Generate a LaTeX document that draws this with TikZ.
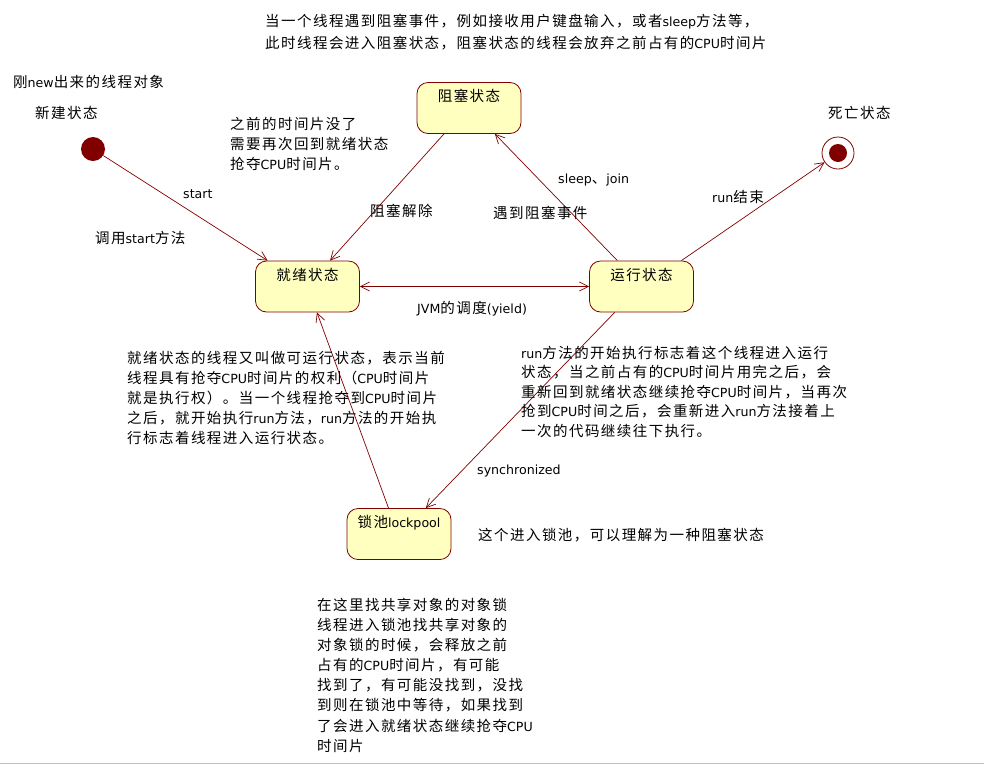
\documentclass[tikz,border=0pt]{standalone}
\usepackage{fontspec}
\setmainfont{DejaVu Sans}
\newfontfamily\cjk[LetterSpace=10]{Noto Sans CJK SC}
\newfontfamily\enfont[Scale=0.87]{DejaVu Sans}
\newcommand\en[1]{{\enfont #1}}
\usetikzlibrary{arrows.meta,calc}
\definecolor{dred}{HTML}{800000}
\definecolor{byellow}{HTML}{FFFFC0}
\begin{document}
\begin{tikzpicture}[x=1pt,y=-1pt,
  txt/.style={font=\cjk\fontsize{14.5}{#1}\selectfont, inner sep=0pt, align=left, anchor=north west},
  txt/.default=20,
  lbl/.style={font=\cjk\fontsize{14.5}{16}\selectfont, inner sep=0pt, anchor=base west},
  state/.style={draw=dred, fill=byellow, rounded corners=11pt, line width=0.8pt,
    minimum width=104pt, minimum height=51pt, inner xsep=2pt, inner ysep=4pt,
    text height=15pt, text depth=28pt, font=\cjk\fontsize{14.5}{16}\selectfont},
  tip/.tip={Straight Barb[length=9pt,width=9pt]},
  conn/.style={draw=dred, line width=0.7pt, -tip},
  dot/.style={circle, fill=dred, inner sep=0pt}
]
\useasboundingbox (0,0) rectangle (984,764);
\draw[draw={rgb,255:red,192;green,192;blue,192}, line width=1pt] (0,763.5) -- (984,763.5);

% states
\node[state] (blocked) at (469,108) {阻塞状态};
\node[state] (ready) at (307.5,286.5) {就绪状态};
\node[state] (running) at (641.5,286.5) {运行状态};
\node[state] (pool) at (399,534) {锁池\en{lockpool}};
\node[dot, minimum size=24pt] (start) at (93,149) {};
\node[circle, draw=dred, fill=white, line width=0.8pt, minimum size=32pt, inner sep=0pt] (final) at (838,153) {};
\node[dot, minimum size=18pt] (finaldot) at (final.center) {};

% connectors
\draw[conn] (start) -- (ready.147);
\draw[conn] (blocked.226) -- (ready.49);
\draw[conn] (running.133) -- (blocked.315);
\draw[conn] (running.33) -- (final);
\draw[conn, tip-tip] (ready.east) -- (running.west);
\draw[conn] (running.224) -- (pool.44);
\draw[conn] (pool.112) -- (ready.290);

% texts
\node[txt=22] (topnote) at (265,14) {当一个线程遇到阻塞事件，例如接收用户键盘输入，或者\en{sleep}方法等，\\此时线程会进入阻塞状态，阻塞状态的线程会放弃之前占有的\en{CPU}时间片};
\node[lbl] (newobj) at (13,87) {刚\en{new}出来的线程对象};
\node[lbl] (newlbl) at (35,118) {新建状态};
\node[txt] (lost) at (230,117) {之前的时间片没了\\需要再次回到就绪状态\\抢夺\en{CPU}时间片。};
\node[lbl] (lstart) at (183,198) {\en{start}};
\node[lbl] (lcall) at (95,243) {调用\en{start}方法};
\node[lbl] (lunblock) at (370,216) {阻塞解除};
\node[lbl] (ldead) at (828,118) {死亡状态};
\node[lbl] (lsleep) at (558,183.5) {\en{sleep}、\en{join}};
\node[lbl] (lmeet) at (493,218) {遇到阻塞事件};
\node[lbl] (lrunend) at (712,202) {\en{run}结束};
\node[lbl] (ljvm) at (417,313) {\en{JVM}的调度\en{(yield)}};
\node[txt] (readynote) at (127,351) {就绪状态的线程又叫做可运行状态，表示当前\\线程具有抢夺\en{CPU}时间片的权利（\en{CPU}时间片\\就是执行权）。当一个线程抢夺到\en{CPU}时间片\\之后，就开始执行\en{run}方法，\en{run}方法的开始执\\行标志着线程进入运行状态。};
\node[txt=19.5] (runnote) at (521,346) {\en{run}方法的开始执行标志着这个线程进入运行\\状态，当之前占有的\en{CPU}时间片用完之后，会\\重新回到就绪状态继续抢夺\en{CPU}时间片，当再次\\抢到\en{CPU}时间之后，会重新进入\en{run}方法接着上\\一次的代码继续往下执行。};
\node[lbl] (lsync) at (477,474) {\en{synchronized}};
\node[lbl] (poolnote) at (478,540) {这个进入锁池，可以理解为一种阻塞状态};
\node[txt=20.1] (lockpoolnote) at (317,598) {在这里找共享对象的对象锁\\线程进入锁池找共享对象的\\对象锁的时候，会释放之前\\占有的\en{CPU}时间片，有可能\\找到了，有可能没找到，没找\\到则在锁池中等待，如果找到\\了会进入就绪状态继续抢夺\en{CPU}\\时间片};
\end{tikzpicture}
\end{document}
